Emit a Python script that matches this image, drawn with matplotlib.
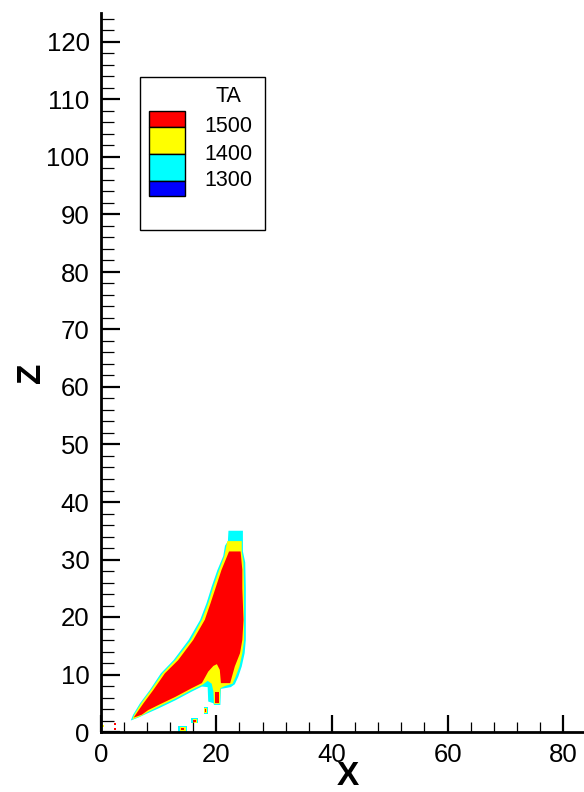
import matplotlib
matplotlib.use("Agg")
import matplotlib.pyplot as plt
from matplotlib.patches import Rectangle
from matplotlib.ticker import MultipleLocator

plt.rcParams['font.family'] = ['Liberation Sans', 'DejaVu Sans']

# ---- data: contour bands (x, z) outlines ----
cyan_x = [5.2, 6.5, 8.0, 10.0, 12.9, 15.7, 17.5, 18.5, 18.6, 19.5, 19.6, 20.7, 20.8, 22.5, 23.2,
          23.8, 24.4, 24.9, 25.1, 25.1, 25.1, 25.0, 24.6, 24.6,
          22.1, 22.0, 21.5, 21.2, 20.2, 19.2, 18.3, 17.2, 15.2, 12.6, 10.4, 8.5, 6.8, 5.6]
cyan_z = [2.0, 2.5, 3.2, 4.1, 5.5, 7.0, 7.9, 7.8, 5.3, 5.0, 4.7, 4.7, 7.5, 7.8, 8.3,
          9.6, 11.4, 13.7, 16.0, 19.5, 25.0, 29.5, 31.4, 35.0,
          35.0, 33.2, 32.4, 30.6, 28.2, 25.3, 22.4, 19.5, 16.0, 12.5, 10.2, 7.3, 5.0, 3.0]

yellow_x = [5.5, 7.0, 8.2, 10.0, 12.9, 15.7, 17.6, 18.5, 19.2, 19.5, 19.6, 20.6, 20.7, 21.5, 22.8,
            23.3, 24.0, 24.5, 24.8, 24.8, 24.8, 24.7, 24.4, 24.4,
            21.9, 21.4, 20.5, 19.5, 18.6, 17.5, 15.6, 12.9, 10.7, 8.7, 7.0, 5.8]
yellow_z = [2.2, 2.8, 3.5, 4.4, 5.8, 7.3, 8.2, 8.9, 8.4, 7.0, 4.9, 4.9, 7.6, 8.0, 8.4,
            9.5, 11.4, 13.7, 16.0, 19.5, 25.0, 29.5, 31.4, 33.2,
            33.2, 30.6, 28.2, 25.3, 22.4, 19.5, 16.0, 12.5, 10.2, 7.3, 5.0, 3.0]

red_x = [5.7, 7.1, 8.2, 10.0, 12.9, 15.7, 17.5, 18.6, 19.5, 20.1, 20.6, 20.8, 22.4, 22.7, 23.2,
         24.1, 24.5, 24.7, 24.5, 24.5, 24.2,
         22.2, 20.9, 19.95, 19.0, 18.0, 16.0, 13.4, 11.1, 9.1, 7.4, 6.2]
red_z = [2.5, 3.0, 3.8, 4.7, 6.1, 7.6, 8.5, 10.5, 11.5, 11.8, 10.8, 8.5, 8.5, 9.6, 11.4,
         13.7, 16.0, 19.5, 25.0, 28.2, 31.4,
         31.4, 28.2, 25.3, 22.4, 19.5, 16.0, 12.5, 10.2, 7.3, 5.0, 3.25]

# small isolated spots: outlines of cyan rim, yellow ring and red core
spot_cyan = [
    ([17.8, 18.5, 18.5, 17.8], [3.1, 3.1, 4.4, 4.4]),
    ([15.7, 16.8, 16.8, 15.7], [1.5, 1.5, 2.4, 2.4]),
    ([13.4, 15.0, 15.0, 13.4], [0.05, 0.05, 1.0, 1.0]),
]
spot_yellow = [
    ([17.9, 18.4, 18.4, 17.9], [3.3, 3.3, 4.2, 4.2]),
    ([15.9, 16.6, 16.6, 15.9], [1.6, 1.6, 2.3, 2.3]),
    ([13.7, 14.7, 14.7, 13.7], [0.15, 0.15, 0.9, 0.9]),
    ([0.3, 0.6, 0.6, 0.3], [0.9, 0.9, 1.3, 1.3]),
]
spot_red = [
    ([19.8, 20.5, 20.5, 19.8], [5.1, 5.1, 6.9, 6.9]),
    ([18.0, 18.3, 18.3, 18.0], [3.5, 3.5, 4.0, 4.0]),
    ([16.0, 16.4, 16.4, 16.0], [1.8, 1.8, 2.1, 2.1]),
    ([13.9, 14.4, 14.4, 13.9], [0.3, 0.3, 0.7, 0.7]),
    ([2.3, 2.7, 2.7, 2.3], [1.2, 1.2, 1.6, 1.6]),
    ([2.3, 2.7, 2.7, 2.3], [0.3, 0.3, 0.7, 0.7]),
]

legend_title = "TA"
legend_levels = [1500, 1400, 1300]
band_colors = ["#FF0000", "#FFFF00", "#00FFFF", "#0000FF"]

x_max, z_max = 83.6, 125

# ---- figure ----
W, H = 584, 792
fig = plt.figure(figsize=(W / 100, H / 100), dpi=100)
ax = fig.add_axes([100.7 / W, (H - 732) / H, (W - 100.7) / W, (732 - 13.25) / H])

ax.fill(cyan_x, cyan_z, color=band_colors[2], lw=0)
ax.fill(yellow_x, yellow_z, color=band_colors[1], lw=0)
ax.fill(red_x, red_z, color=band_colors[0], lw=0)
for xs, zs in spot_cyan:
    ax.fill(xs, zs, color=band_colors[2], lw=0)
for xs, zs in spot_yellow:
    ax.fill(xs, zs, color=band_colors[1], lw=0)
for xs, zs in spot_red:
    ax.fill(xs, zs, color=band_colors[0], lw=0)

ax.set_xlim(0, x_max)
ax.set_ylim(0, z_max)

for s in ["top", "right"]:
    ax.spines[s].set_visible(False)
for s in ["left", "bottom"]:
    ax.spines[s].set_linewidth(2.0)
    ax.spines[s].set_zorder(5)

ax.xaxis.set_major_locator(MultipleLocator(20))
ax.xaxis.set_minor_locator(MultipleLocator(4))
ax.yaxis.set_major_locator(MultipleLocator(10))
ax.yaxis.set_minor_locator(MultipleLocator(2))
ax.tick_params(axis='y', which='major', direction='in', length=14, width=1.6, labelsize=18.5, pad=8)
ax.tick_params(axis='y', which='minor', direction='in', length=9, width=0.9)
ax.tick_params(axis='x', which='major', direction='in', length=12.5, width=1.6, labelsize=18.5, pad=8)
ax.tick_params(axis='x', which='minor', direction='in', length=7.5, width=0.9)

ax.set_xlabel("X", fontsize=24, fontweight='bold')
ax.xaxis.set_label_coords(0.5 + (347 - 342) / 483.3, -0.040)
ax.xaxis.label.set_verticalalignment('top')
ax.set_ylabel("Z", fontsize=24, fontweight='bold')
ax.yaxis.set_label_coords((47 - 100.7) / 483.3, 0.5)

# ---- legend box (Tecplot style) ----
def fx(px):
    return px / W

def fy(py):
    return 1 - py / H

fig.patches.append(Rectangle((fx(140), fy(230)), fx(265) - fx(140), fy(77) - fy(230),
                             transform=fig.transFigure, fill=True, facecolor='white',
                             edgecolor='black', lw=1.0, zorder=10))
sw_edges = [111, 126.7, 154.3, 181, 195.7]
for i, c in enumerate(band_colors):
    y0, y1 = sw_edges[i], sw_edges[i + 1]
    fig.patches.append(Rectangle((fx(149.3), fy(y1)), fx(185) - fx(149.3), fy(y0) - fy(y1),
                                 transform=fig.transFigure, facecolor=c, edgecolor='black',
                                 lw=1.0, zorder=11))
fig.text(fx(228), fy(96.7), legend_title, fontsize=15.5, ha='center', va='center', zorder=12)
for lev, yb in zip(legend_levels, sw_edges[1:4]):
    fig.text(fx(204), fy(yb), str(lev), fontsize=15.5, ha='left', va='center', zorder=12)

fig.savefig("out.png", dpi=100)
